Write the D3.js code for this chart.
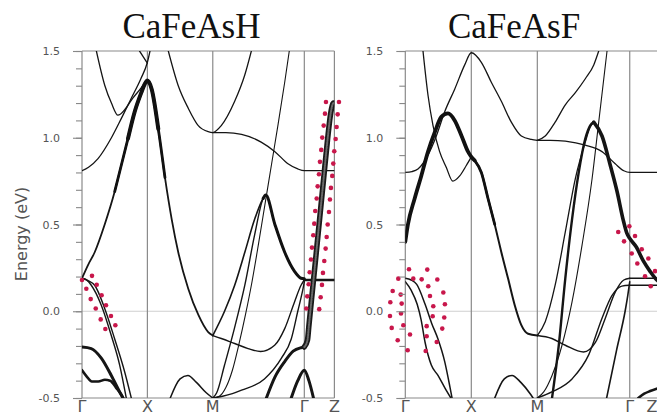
<!DOCTYPE html>
<html>
<head>
<meta charset="utf-8">
<script src="https://cdn.jsdelivr.net/npm/d3@7"></script>
<style>
  body { margin: 0; background: #fff; }
  svg { display: block; }
  .tick text { font-family: 'DejaVu Sans', sans-serif; font-size: 11px; fill: #555; }
  .tick line { stroke: #888; }
</style>
</head>
<body>
<svg width="657" height="415"></svg>
<script>
// path through the Brillouin zone, same for both panels
const kPoints = [0, 1, 2, 3.4, 3.86];
const kLabels = ['Γ', 'X', 'M', 'Γ', 'Z'];
const energyTicks = [-0.5, 0.0, 0.5, 1.0, 1.5];
const titles = ['CaFeAsH', 'CaFeAsF'];

// ---- CaFeAsH bands, points are [k, E(eV)] ----
const hBandA = [[0.22,1.50],[0.35,1.30],[0.45,1.20],[0.55,1.13],[0.65,1.16],[0.78,1.23],[0.91,1.29],[0.98,1.33]];
const hBandB = [[0,0.81],[0.1,0.83],[0.245,0.88],[0.45,1.0],[0.6,1.11],[0.75,1.225],[0.9,1.34],[1.0,1.435],[1.04,1.5]];
const hBandC = [[0.88,1.5],[0.94,1.465],[1.0,1.43]];
const hBandD = [[0,0.19],[0.09,0.265],[0.194,0.34],[0.347,0.50],[0.5,0.69],[0.6,0.84],[0.703,0.995],[0.806,1.15],[0.907,1.26],[0.96,1.31],[1.0,1.33],[1.066,1.28],[1.167,1.05],[1.269,0.77],[1.372,0.53],[1.472,0.34],[1.625,0.13],[1.778,-0.02],[1.93,-0.12],[2.0,-0.14]];
const hBandE = [[1.32,1.5],[1.472,1.30],[1.625,1.17],[1.778,1.07],[1.93,1.035],[2.0,1.03],[2.13,1.07],[2.335,1.21],[2.488,1.36],[2.59,1.5]];
const hBandF = [[2.0,1.03],[2.2,1.03],[2.44,1.02],[2.74,0.975],[2.95,0.92],[3.15,0.85],[3.3,0.82],[3.4,0.81],[3.86,0.81]];
const hBandG = [[2.0,-0.5],[2.1,-0.49],[2.2,-0.44],[2.3,-0.34],[2.4,-0.19],[2.5,-0.02],[2.6,0.17],[2.7,0.39],[2.8,0.62],[2.9,0.85],[3.0,1.08],[3.1,1.32],[3.17,1.5]];
const hBandH = [[2.0,-0.14],[2.18,0.0],[2.335,0.15],[2.49,0.34],[2.64,0.53],[2.77,0.65],[2.81,0.67],[2.95,0.50],[3.1,0.34],[3.25,0.23],[3.35,0.19],[3.4,0.187]];
const hBandI = [[2.0,-0.5],[2.06,-0.47],[2.18,-0.31],[2.33,-0.10],[2.49,0.15],[2.64,0.44],[2.77,0.65],[2.81,0.67]];
const hBandJ = [[2.0,-0.14],[2.13,-0.157],[2.335,-0.186],[2.54,-0.215],[2.73,-0.232],[2.946,-0.196],[3.1,-0.10],[3.25,0.054],[3.35,0.15],[3.4,0.18]];
const hBandK = [[2.0,-0.5],[2.15,-0.49],[2.3,-0.475],[2.44,-0.455],[2.79,-0.39],[3.05,-0.27],[3.2,-0.16],[3.3,0.0],[3.38,0.13],[3.4,0.17]];
const hBandL = [[2.82,-0.5],[2.95,-0.38],[3.1,-0.29],[3.23,-0.23],[3.35,-0.21],[3.4,-0.206]];
const hBandM = [[3.4,-0.206],[3.448,-0.167],[3.471,-0.08],[3.509,0.063],[3.57,0.29],[3.632,0.525],[3.693,0.755],[3.754,0.985],[3.807,1.15],[3.846,1.2],[3.86,1.2]];
const hBandN = [[3.2,-0.5],[3.3,-0.40],[3.4,-0.34],[3.47,-0.40],[3.54,-0.5]];
const hBandO = [[3.4,0.18],[3.86,0.18]];
const hBandP = [[0,0.19],[0.07,0.18],[0.142,0.15],[0.295,0.035],[0.448,-0.14],[0.576,-0.31],[0.677,-0.5]];
const hBandQ = [[0,0.19],[0.1,0.175],[0.194,0.15],[0.347,0.016],[0.5,-0.16],[0.653,-0.35],[0.754,-0.5]];
const hBandR = [[0,-0.206],[0.142,-0.215],[0.295,-0.27],[0.448,-0.37],[0.576,-0.465],[0.627,-0.5]];
const hBandS = [[0,-0.34],[0.07,-0.375],[0.15,-0.405],[0.25,-0.405],[0.35,-0.395],[0.43,-0.40],[0.52,-0.44],[0.6,-0.48],[0.63,-0.5]];
const hBandT = [[1.35,-0.5],[1.5,-0.39],[1.62,-0.37],[1.75,-0.41],[1.9,-0.47],[2.0,-0.5]];

// orbital weight markers (red dots) for CaFeAsH
const hDotsG = [[0,0.18],[0.066,0.13],[0.133,0.07],[0.21,0.016],[0.286,-0.047],[0.357,-0.102],
  [0.153,0.204],[0.225,0.153],[0.30,0.092],[0.367,0.035],[0.443,-0.027],[0.51,-0.081]];
const hDotsZ = [[3.731,1.206],[3.716,1.139],[3.696,1.070],[3.674,1.001],[3.659,0.930],[3.639,0.861],[3.624,0.790],[3.604,0.720],[3.589,0.650],
  [3.567,0.578],[3.552,0.505],[3.537,0.438],[3.517,0.367],[3.502,0.298],[3.482,0.225],[3.466,0.156],[3.445,0.086],[3.43,0.016],
  [3.93,1.206],[3.91,1.135],[3.894,1.062],[3.879,0.993],[3.858,0.922],[3.843,0.851],[3.827,0.780],[3.807,0.711],[3.792,0.644],
  [3.777,0.572],[3.757,0.500],[3.742,0.428],[3.726,0.361],[3.705,0.290],[3.685,0.221],[3.67,0.152],[3.65,0.081],[3.628,0.012]];

// ---- CaFeAsF bands ----
const fBandA = [[0.268,1.5],[0.344,1.245],[0.42,1.07],[0.52,0.92],[0.62,0.83],[0.72,0.75],[0.824,0.78],[0.924,0.84],[1.0,0.89]];
const fBandB = [[0,0.80],[0.1,0.805],[0.192,0.82],[0.344,0.90],[0.47,1.01],[0.597,1.15],[0.748,1.28],[0.9,1.42],[1.0,1.49],[1.152,1.435],[1.303,1.32],[1.455,1.21],[1.606,1.09],[1.758,1.01],[1.91,0.99],[2.0,0.985]];
const fBandC = [[0,0.40],[0.04,0.50],[0.142,0.65],[0.242,0.78],[0.344,0.92],[0.445,1.03],[0.545,1.12],[0.647,1.14],[0.748,1.10],[0.848,1.015],[0.95,0.92],[1.0,0.89],[1.05,0.87],[1.152,0.80],[1.253,0.65],[1.355,0.50],[1.455,0.34],[1.556,0.19],[1.658,0.035],[1.758,-0.08],[1.86,-0.13],[2.0,-0.14]];
const fBandD = [[0,0.19],[0.09,0.18],[0.173,0.155],[0.3,0.04],[0.4,-0.07],[0.495,-0.16],[0.597,-0.29],[0.673,-0.43],[0.708,-0.5]];
const fBandE = [[0,0.17],[0.09,0.12],[0.18,0.04],[0.24,-0.05],[0.3,-0.18],[0.394,-0.31],[0.495,-0.37],[0.597,-0.44],[0.69,-0.5]];
const fBandF = [[1.355,-0.5],[1.5,-0.39],[1.617,-0.37],[1.75,-0.41],[1.9,-0.48],[1.935,-0.5]];
const fBandG = [[2.0,0.985],[2.12,1.01],[2.27,1.09],[2.424,1.19],[2.576,1.26],[2.727,1.34],[2.855,1.42],[2.93,1.5]];
const fBandH = [[2.0,0.985],[2.2,0.985],[2.424,0.98],[2.727,0.957],[2.98,0.92],[3.18,0.85],[3.31,0.81],[3.4,0.80],[3.86,0.80]];
const fBandI = [[2.0,-0.5],[2.097,-0.465],[2.223,-0.37],[2.374,-0.196],[2.526,0.054],[2.677,0.38],[2.83,0.765],[2.93,1.09],[3.056,1.5]];
const fBandJ = [[2.223,-0.5],[2.324,-0.2],[2.424,0.19],[2.526,0.53],[2.627,0.80],[2.727,0.995],[2.8,1.07],[2.855,1.09]];
const fBandK = [[2.0,-0.14],[2.12,-0.06],[2.27,0.15],[2.424,0.457],[2.576,0.765],[2.727,0.976],[2.8,1.06],[2.855,1.09]];
const fBandL = [[2.855,1.09],[2.98,1.01],[3.106,0.84],[3.208,0.69],[3.305,0.52],[3.356,0.45],[3.4,0.42],[3.5,0.37],[3.606,0.29],[3.708,0.23],[3.81,0.18],[3.86,0.165]];
const fBandM = [[2.0,-0.14],[2.22,-0.157],[2.424,-0.196],[2.7,-0.235],[2.88,-0.18],[3.03,-0.04],[3.18,0.11],[3.31,0.18],[3.4,0.19]];
const fBandN = [[2.0,-0.5],[2.22,-0.465],[2.526,-0.39],[2.78,-0.25],[2.98,-0.04],[3.13,0.09],[3.28,0.145],[3.4,0.15]];
const fBandO = [[3.05,-0.5],[3.2,-0.225],[3.33,0.0],[3.37,0.09],[3.4,0.17]];
const fBandP = [[3.4,0.19],[3.86,0.19]];
const fBandQ = [[3.4,0.15],[3.86,0.15]];
const fBandR = [[3.53,-0.5],[3.62,-0.475],[3.71,-0.46],[3.86,-0.44]];

// orbital weight markers for CaFeAsF
const fDotsG = [[0.056,0.242],[0.333,0.240],[0.485,0.183],[0.576,0.108],[0.60,0.040],[0.59,-0.036],[0.56,-0.10],[0.476,-0.177],
  [0.309,-0.229],[0.036,-0.225],[-0.115,-0.167],[-0.206,-0.096],[-0.232,-0.027],[-0.227,0.052],[-0.191,0.117],[-0.106,0.188],
  [0.121,0.188],[0.248,0.184],[0.348,0.144],[0.374,0.088],[0.424,0.029],[0.415,-0.029],[0.324,-0.086],[0.324,-0.144],
  [0.071,-0.134],[-0.03,-0.081],[-0.065,-0.013],[-0.055,0.044],[-0.07,0.096]];
const fDotsZ = [[3.226,0.457],[3.314,0.403],[3.43,0.333],[3.515,0.275],[3.632,0.202],[3.718,0.144],
  [3.394,0.49],[3.48,0.434],[3.582,0.357],[3.682,0.304],[3.783,0.231]];

(function (d3) {
  'use strict';

  const svg = d3.select('svg');
  const width = +svg.attr('width');
  const height = +svg.attr('height');

  const yScale = d3.scaleLinear().domain([-0.5, 1.5]).range([398, 51]);

  // [data, stroke width]; fat = overlay drawn thicker on a k window
  const panels = [
    {
      id: 'h', title: titles[0], titleX: 191.5, range: [82, 334.4], showYLabel: true,
      lines: [[hBandA,1.3],[hBandB,1.3],[hBandC,1.3],[hBandD,1.8],[hBandE,1.3],[hBandF,1.3],[hBandG,1.1],
              [hBandH,1.6],[hBandI,1.4],[hBandJ,1.4],[hBandK,1.4],[hBandL,3],[hBandN,3],[hBandO,2.6],
              [hBandP,1.4],[hBandQ,1.4],[hBandR,3],[hBandS,2.6],[hBandT,1.5]],
      fat: [[hBandD,0.45,1.28,2.8],[hBandD,0.7,1.17,4],[hBandH,2.7,3.4,3]],
      hatched: [hBandM],
      dots: [hDotsG, hDotsZ]
    },
    {
      id: 'f', title: titles[1], titleX: 514, range: [405.3, 660.1], showYLabel: false,
      lines: [[fBandA,1.3],[fBandB,1.3],[fBandC,2],[fBandD,1.5],[fBandE,1.5],[fBandF,1.6],[fBandG,1.3],
              [fBandH,1.3],[fBandI,1.1],[fBandJ,2.4],[fBandK,1.3],[fBandL,3.6],[fBandM,1.4],[fBandN,1.4],
              [fBandO,1.6],[fBandP,1.4],[fBandQ,1.4],[fBandR,2.6]],
      fat: [[fBandC,0,1.1,3.8],[fBandC,1.0,1.36,2.8]],
      hatched: [],
      dots: [fDotsG, fDotsZ]
    }
  ];

  const render = p => {
    const xScale = d3.scaleLinear().domain([0, 3.86]).range(p.range);
    const x0 = xScale(0), x1 = xScale(3.86);
    const g = svg.append('g');

    g.append('clipPath').attr('id', 'clip-' + p.id)
      .append('rect')
        .attr('x', x0).attr('y', yScale(1.5))
        .attr('width', x1 - x0).attr('height', yScale(-0.5) - yScale(1.5));

    // Fermi level
    g.append('line')
      .attr('x1', x0).attr('x2', x1)
      .attr('y1', yScale(0)).attr('y2', yScale(0))
      .attr('stroke', '#cfcfcf').attr('stroke-width', 1.2);

    // frame + high symmetry lines
    g.selectAll('.kline').data(kPoints).enter().append('line')
      .attr('class', 'kline')
      .attr('x1', d => xScale(d)).attr('x2', d => xScale(d))
      .attr('y1', yScale(-0.5)).attr('y2', yScale(1.5))
      .attr('stroke', '#8a8a8a').attr('stroke-width', 1.2);
    g.selectAll('.eline').data([-0.5, 1.5]).enter().append('line')
      .attr('class', 'eline')
      .attr('x1', x0).attr('x2', x1)
      .attr('y1', d => yScale(d)).attr('y2', d => yScale(d))
      .attr('stroke', '#8a8a8a').attr('stroke-width', 1.2);

    const line = d3.line()
      .x(d => xScale(d[0]))
      .y(d => yScale(d[1]))
      .curve(d3.curveMonotoneX);

    const bands = g.append('g').attr('clip-path', `url(#clip-${p.id})`)
      .attr('fill', 'none').attr('stroke-linecap', 'round').attr('stroke-linejoin', 'round');

    p.lines.forEach(([data, w]) => {
      bands.append('path').attr('d', line(data))
        .attr('stroke', '#151515').attr('stroke-width', w);
    });
    p.fat.forEach(([data, k0, k1, w]) => {
      bands.append('path').attr('d', line(data.filter(d => d[0] >= k0 && d[0] <= k1)))
        .attr('stroke', '#111').attr('stroke-width', w);
    });
    p.hatched.forEach(data => {
      bands.append('path').attr('d', line(data))
        .attr('stroke', '#1a1a1a').attr('stroke-width', 5.5);
      bands.append('path').attr('d', line(data))
        .attr('stroke', '#6a6a6a').attr('stroke-width', 2)
        .attr('stroke-dasharray', '1.2,1.3');
    });

    // red weight dots
    p.dots.forEach(set => {
      g.selectAll(null).data(set).enter().append('circle')
        .attr('cx', d => xScale(d[0]))
        .attr('cy', d => yScale(d[1]))
        .attr('r', 2.3)
        .attr('fill', '#c8174b');
    });

    // y axis: minor + major ticks
    const yMinor = d3.axisLeft(yScale)
      .tickValues(d3.range(-5, 16).map(i => i / 10))
      .tickSize(6).tickFormat('');
    const yMajor = d3.axisLeft(yScale)
      .tickValues(energyTicks)
      .tickSize(9).tickPadding(13)
      .tickFormat(d => d.toFixed(1));
    const yMinorG = g.append('g').attr('transform', `translate(${x0},0)`).call(yMinor);
    yMinorG.select('.domain').remove();
    const yMajorG = g.append('g').attr('transform', `translate(${x0},0)`).call(yMajor);
    yMajorG.select('.domain').remove();
    g.selectAll('.tick line').attr('stroke-width', 1.1);

    // k labels
    g.selectAll('.klabel').data(kPoints).enter().append('text')
      .attr('class', 'klabel')
      .attr('x', d => Math.min(xScale(d), width - 5))
      .attr('y', 412)
      .attr('text-anchor', 'middle')
      .attr('font-family', 'DejaVu Sans, sans-serif')
      .attr('font-size', 16)
      .attr('fill', '#555')
      .text((d, i) => kLabels[i]);

    // title
    g.append('text')
      .attr('x', p.titleX).attr('y', 38)
      .attr('text-anchor', 'middle')
      .attr('font-family', 'Liberation Serif, Times New Roman, serif')
      .attr('font-size', 35)
      .attr('fill', '#111')
      .text(p.title);

    if (p.showYLabel) {
      g.append('text')
        .attr('transform', 'translate(27,234) rotate(-90)')
        .attr('text-anchor', 'middle')
        .attr('font-family', 'DejaVu Sans, sans-serif')
        .attr('font-size', 16)
        .attr('fill', '#555')
        .text('Energy (eV)');
    }
  };

  panels.forEach(render);

}(d3));
</script>
</body>
</html>
